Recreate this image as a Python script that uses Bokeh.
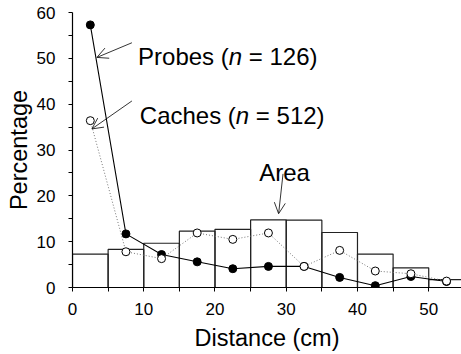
from bokeh.plotting import figure
from bokeh.models import Range1d, FixedTicker, Label, Arrow, OpenHead
from bokeh.embed import file_html
from bokeh.resources import INLINE

# ---- data ----
distance_mid = [2.5, 7.5, 12.5, 17.5, 22.5, 27.5, 32.5, 37.5, 42.5, 47.5, 52.5]
probes = [57.3, 11.7, 7.2, 5.6, 4.1, 4.6, 4.6, 2.2, 0.4, 2.4, 1.3]
caches = [36.4, 7.8, 6.3, 11.9, 10.5, 11.9, 4.6, 8.1, 3.6, 3.0, 1.4]
bin_left = [0, 5, 10, 15, 20, 25, 30, 35, 40, 45, 50]
bin_right = [5, 10, 15, 20, 25, 30, 35, 40, 45, 50, 55]
area = [7.3, 8.3, 9.65, 12.3, 12.7, 14.75, 14.7, 12.0, 7.3, 4.3, 1.7]
x_ticks = [0, 10, 20, 30, 40, 50]
y_ticks = [0, 10, 20, 30, 40, 50, 60]

FONT = "Liberation Sans"

p = figure(width=461, height=354, output_backend="svg", toolbar_location=None,
           x_range=Range1d(0, 54.6), y_range=Range1d(0, 60),
           min_border_left=72, min_border_right=0, min_border_top=12, min_border_bottom=67)
p.outline_line_color = None
p.xgrid.visible = False
p.ygrid.visible = False
p.background_fill_color = "white"
p.border_fill_color = "white"

# histogram (Area)
p.quad(left=bin_left, right=bin_right, top=area, bottom=0,
       fill_color=None, line_color="#222222", line_width=1.2)

# probes
p.line(distance_mid, probes, line_color="black", line_width=1.1)
p.scatter(distance_mid, probes, size=8, fill_color="black", line_color="black")

# caches
p.line(distance_mid, caches, line_color="#777777", line_width=1, line_dash="1 2")
p.scatter(distance_mid, caches, size=8, fill_color="white", line_color="black", line_width=1)

for ax in (p.xaxis[0], p.yaxis[0]):
    ax.axis_line_color = "black"
    ax.axis_line_width = 1.2
    ax.major_tick_line_color = "black"
    ax.minor_tick_line_color = "black"
    ax.major_tick_in = 0
    ax.major_tick_out = 4
    ax.minor_tick_in = 0
    ax.minor_tick_out = 4
    ax.major_label_text_font = FONT
    ax.major_label_text_font_size = "17px"
    ax.major_label_text_color = "black"
    ax.axis_label_text_font = FONT
    ax.axis_label_text_font_size = "23.5px"
    ax.axis_label_text_font_style = "normal"
    ax.axis_label_text_color = "black"

p.xaxis.ticker = FixedTicker(ticks=x_ticks, minor_ticks=[5, 15, 25, 35, 45])
p.yaxis.ticker = FixedTicker(ticks=y_ticks, minor_ticks=[5, 15, 25, 35, 45, 55])
p.xaxis.axis_label = "Distance (cm)"
p.yaxis.axis_label = "Percentage"
p.xaxis.major_label_standoff = 11
p.yaxis.major_label_standoff = 13
p.xaxis.axis_label_standoff = 7
p.yaxis.axis_label_standoff = 2

# annotations
fs = 24
W = {"P": .667, "r": .333, "o": .556, "b": .556, "e": .556, "s": .5, " ": .278,
     "(": .333, "C": .722, "a": .556, "c": .5, "h": .556}

def add_label(x, y, pre, post):
    w_pre = sum(W.get(c, 0.556) for c in pre) * fs
    w_n = 0.556 * fs
    w_sp = 0.278 * fs
    kw = dict(text_font=FONT, text_font_size=f"{fs}px", text_color="black",
              text_baseline="alphabetic", text_align="left")
    p.add_layout(Label(x=x, y=y, text=pre, **kw))
    p.add_layout(Label(x=x, y=y, x_offset=w_pre, text="n", text_font_style="italic", **kw))
    p.add_layout(Label(x=x, y=y, x_offset=w_pre + w_n + w_sp, text=post, **kw))

add_label(9.2, 50.5, "Probes (", "= 126)")
add_label(9.45, 37.5, "Caches (", "= 512)")
p.add_layout(Label(x=26.2, y=25.1, text="Area", text_font=FONT, text_font_size=f"{fs}px",
                   text_color="black", text_baseline="alphabetic"))

for xs, ys, xe, ye in [(8.34, 53.4, 3.43, 50.2), (8.34, 40.7, 2.72, 34.6), (29.55, 24.8, 28.93, 16.1)]:
    p.add_layout(Arrow(end=OpenHead(size=11, line_width=0.8, line_color="black"),
                       x_start=xs, y_start=ys, x_end=xe, y_end=ye,
                       line_color="black", line_width=0.8))

open("out.html", "w").write(file_html(p, INLINE))
